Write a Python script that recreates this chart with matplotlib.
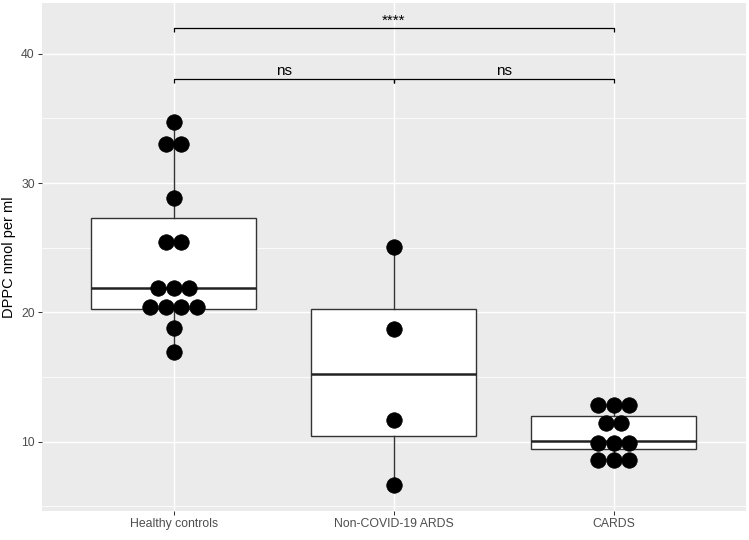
import matplotlib
matplotlib.use("Agg")
import matplotlib.pyplot as plt
from collections import Counter

plt.rcParams['font.family'] = ['Liberation Sans', 'DejaVu Sans']

categories = ["Healthy controls", "Non-COVID-19 ARDS", "CARDS"]

healthy_vals = [34.70, 33.0, 33.0, 28.87, 25.47, 25.47, 21.86, 21.86, 21.86,
                20.44, 20.44, 20.44, 20.44, 18.82, 16.91]
noncovid_vals = [25.08, 18.69, 11.68, 6.65]
cards_vals = [12.84, 12.84, 12.84, 11.42, 11.42, 9.92, 9.92, 9.92, 8.58, 8.58, 8.58]
group_vals = [healthy_vals, noncovid_vals, cards_vals]

box_q1 = [20.29, 10.44, 9.41]
box_med = [21.86, 15.21, 10.05]
box_q3 = [27.32, 20.29, 12.01]
whisker_lo = [16.91, 6.65, 8.58]
whisker_hi = [34.70, 25.08, 12.84]

comparisons = [(1, 2, "ns", 38.05), (2, 3, "ns", 38.05), (1, 3, "****", 41.97)]

W, H = 749, 540
fig = plt.figure(figsize=(W / 100, H / 100), dpi=100)
fig.patch.set_facecolor("white")
ax = fig.add_axes([41.7 / W, (H - 511) / H, (745.7 - 41.7) / W, (511 - 3.3) / H])
ax.set_facecolor("#EBEBEB")
for s in ax.spines.values():
    s.set_visible(False)

ax.set_xlim(0.4, 3.6)
ax.set_ylim(4.64, 43.9)

# grid
ax.set_yticks([10, 20, 30, 40])
ax.set_yticks([5, 15, 25, 35], minor=True)
ax.set_xticks([1, 2, 3])
ax.set_xticklabels(categories)
ax.grid(True, which="major", color="white", linewidth=1.07)
ax.grid(True, which="minor", axis="y", color="white", linewidth=0.55)
ax.set_axisbelow(True)
ax.tick_params(axis="both", which="major", length=2.75, width=0.75, color="#333333",
               labelsize=8.8, labelcolor="#4D4D4D", pad=2.2)
ax.tick_params(axis="both", which="minor", length=0)

# boxplots
stats = []
for i in range(3):
    stats.append(dict(med=box_med[i], q1=box_q1[i], q3=box_q3[i],
                      whislo=whisker_lo[i], whishi=whisker_hi[i], fliers=[]))
ax.bxp(stats, positions=[1, 2, 3], widths=0.75, patch_artist=True, showcaps=False,
       boxprops=dict(facecolor="white", edgecolor="#333333", linewidth=1.0),
       medianprops=dict(color="#222222", linewidth=1.8),
       whiskerprops=dict(color="#333333", linewidth=1.0),
       manage_ticks=False, zorder=2)
ax.set_xticks([1, 2, 3])
ax.set_xticklabels(categories)

# dot stacks (centered)
spacing = 0.0705
for i, vals in enumerate(group_vals):
    counts = Counter(vals)
    xs, ys = [], []
    for v, n in counts.items():
        for j in range(n):
            xs.append(i + 1 + (j - (n - 1) / 2) * spacing)
            ys.append(v)
    ax.scatter(xs, ys, s=125, color="black", edgecolors="black", linewidths=0.5, zorder=4)

# significance brackets
tick = 0.3
for a, b, lab, y in comparisons:
    ax.plot([a, a, b, b], [y - tick, y, y, y - tick], color="black", linewidth=0.9,
            zorder=5, solid_capstyle="butt")
    ax.text((a + b) / 2, y + 0.3, lab, ha="center", va="baseline", fontsize=11,
            color="black", zorder=5)

ax.set_ylabel("DPPC nmol per ml", fontsize=10.5, color="black", labelpad=4)

fig.savefig("out.png", dpi=100, facecolor="white")
